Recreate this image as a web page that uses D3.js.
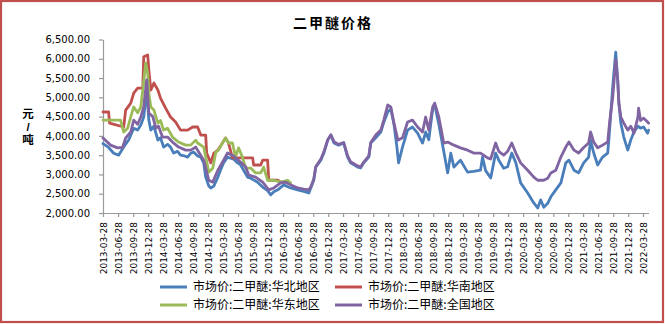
<!DOCTYPE html>
<html><head><meta charset="utf-8">
<script src="https://cdn.jsdelivr.net/npm/d3@7"></script>
<style>body{margin:0;background:#fff}svg{display:block}</style>
</head><body><svg id="c" width="665" height="324"></svg>
<script>
const chartTitle = "二甲醚价格";
const yAxisTitle = ["元", "/", "吨"];
const yTicks = [2000, 2500, 3000, 3500, 4000, 4500, 5000, 5500, 6000, 6500];
const xTickLabels = ["2013-03-28","2013-06-28","2013-09-28","2013-12-28","2014-03-28","2014-06-28","2014-09-28","2014-12-28",
  "2015-03-28","2015-06-28","2015-09-28","2015-12-28","2016-03-28","2016-06-28","2016-09-28","2016-12-28",
  "2017-03-28","2017-06-28","2017-09-28","2017-12-28","2018-03-28","2018-06-28","2018-09-28","2018-12-28",
  "2019-03-28","2019-06-28","2019-09-28","2019-12-28","2020-03-28","2020-06-28","2020-09-28","2020-12-28",
  "2021-03-28","2021-06-28","2021-09-28","2021-12-28","2022-03-28"];
const seriesNames = ["市场价:二甲醚:华北地区", "市场价:二甲醚:华南地区", "市场价:二甲醚:华东地区", "市场价:二甲醚:全国地区"];
const seriesColors = ["#4a7ebb", "#c0504d", "#9bbb59", "#8064a2"];

// 华北
const northDates = ["2013-03-28","2013-05-01","2013-06-01","2013-07-01","2013-08-01","2013-09-01","2013-10-01","2013-10-25","2013-11-13","2013-12-01","2013-12-19",
 "2014-01-01","2014-01-13","2014-02-01","2014-02-25","2014-03-13","2014-04-01","2014-04-25","2014-05-13","2014-06-01","2014-06-25","2014-07-13","2014-08-07","2014-08-25","2014-09-13","2014-10-01","2014-10-25","2014-11-13","2014-12-01","2014-12-13",
 "2015-01-01","2015-01-13","2015-02-01","2015-02-25","2015-03-13","2015-04-01","2015-04-25","2015-05-13","2015-06-01","2015-06-25","2015-07-13","2015-08-01","2015-08-25","2015-09-13","2015-10-25","2015-12-01","2015-12-25",
 "2016-01-13","2016-02-01","2016-02-25","2016-04-01","2016-05-13","2016-06-25","2016-08-01","2016-09-01","2016-09-13","2016-10-01","2016-10-13","2016-11-13","2016-12-01","2016-12-25",
 "2017-01-13","2017-02-01","2017-03-01","2017-04-01","2017-04-25","2017-05-13","2017-06-25","2017-07-13","2017-08-01","2017-09-01","2017-09-13","2017-10-13","2017-11-13","2017-12-01","2017-12-25",
 "2018-01-13","2018-02-01","2018-02-19","2018-03-01","2018-03-25","2018-04-25","2018-05-25","2018-06-25","2018-07-25","2018-08-13","2018-09-01","2018-09-25","2018-10-07","2018-11-01","2018-12-01","2018-12-25",
 "2019-01-13","2019-02-01","2019-02-25","2019-03-13","2019-04-25","2019-06-01","2019-07-13","2019-07-25","2019-08-13","2019-09-13","2019-10-13","2019-11-01","2019-12-01","2019-12-25",
 "2020-01-19","2020-02-13","2020-03-13","2020-04-25","2020-06-01","2020-06-25","2020-07-13","2020-08-01","2020-08-25","2020-09-13","2020-10-13","2020-11-13","2020-12-13",
 "2021-01-01","2021-02-01","2021-03-01","2021-04-01","2021-05-01","2021-05-13","2021-06-01","2021-06-25","2021-07-25","2021-08-25","2021-09-07","2021-09-25","2021-10-13","2021-10-25","2021-11-01","2021-11-13","2021-12-01","2021-12-25",
 "2022-01-13","2022-02-01","2022-02-25","2022-03-13","2022-04-01","2022-04-25","2022-05-01"];
const northValues = [3800,3700,3550,3500,3710,3900,4200,4150,4280,4490,5190,
 4410,4150,4250,3890,3950,3710,3780,3710,3555,3600,3500,3480,3450,3550,3580,3480,3450,3300,2930,
 2700,2650,2700,2930,3110,3300,3450,3420,3400,3300,3250,3110,2930,2900,2800,2650,2580,
 2470,2550,2600,2730,2650,2600,2560,2520,2650,2850,3190,3370,3550,3890,
 4020,3815,3760,3815,3450,3300,3190,3170,3300,3450,3815,3950,4100,4350,4620,
 4700,4300,3710,3300,3710,4150,4230,4070,3815,4100,3900,4700,4800,4300,3600,3040,
 3550,3190,3300,3370,3060,3080,3110,3450,3100,2910,3555,3370,3160,3200,
 3555,3300,2780,2520,2260,2130,2340,2150,2250,2420,2600,2780,3300,
 3370,3110,3040,3300,3450,3890,3555,3245,3450,3555,4230,5300,6175,5450,4850,4330,3970,3630,
 3900,4100,4250,4200,4230,4070,4150];

// 华南
const southDates = ["2013-03-28","2013-05-01","2013-05-07","2013-08-01","2013-08-13","2013-09-13","2013-10-01","2013-10-25","2013-11-25","2013-12-01","2013-12-25",
 "2014-01-01","2014-01-13","2014-02-01","2014-02-25","2014-03-13","2014-04-13","2014-05-13","2014-06-13","2014-07-13","2014-08-25","2014-09-25","2014-10-25","2014-11-13","2014-12-13","2014-12-19",
 "2015-01-13","2015-02-01","2015-02-25","2015-03-25","2015-04-13","2015-05-01","2015-05-25","2015-09-25","2015-10-01","2015-11-13","2015-11-25","2015-12-25",
 "2016-01-01","2016-02-25","2016-03-13","2016-04-25"];
const southValues = [4620,4620,4330,4230,4670,4850,5110,5240,5240,6050,6100,
 5710,5190,5370,5190,4980,4720,4490,4360,4150,4150,4230,4230,4020,4020,3555,
 3300,3555,3630,3815,3945,3815,3430,3430,3245,3245,3370,3370,
 2850,2850,2800,2800];

// 华东
const eastDates = ["2013-03-28","2013-07-13","2013-08-01","2013-08-25","2013-09-13","2013-10-01","2013-10-25","2013-11-13","2013-11-25","2013-12-13","2013-12-25",
 "2014-01-01","2014-01-13","2014-02-01","2014-02-25","2014-03-13","2014-04-01","2014-04-25","2014-05-25","2014-07-01","2014-08-13","2014-09-13","2014-10-13","2014-10-25","2014-12-01",
 "2015-01-01","2015-01-25","2015-02-13","2015-03-01","2015-03-25","2015-04-13","2015-05-01","2015-05-25","2015-06-13","2015-07-01","2015-07-25","2015-08-13","2015-09-13","2015-10-13","2015-11-13","2015-12-01","2015-12-25",
 "2016-02-01","2016-03-13","2016-04-25","2016-05-13"];
const eastValues = [4410,4410,4100,4200,4490,4750,4600,4750,5190,5890,5630,
 5110,4750,4670,4330,4400,4150,4200,3970,3840,3760,3760,3890,3815,3710,
 3060,3160,3580,3630,3815,3945,3815,3815,3450,3690,3450,3165,3165,3040,3040,3190,2850,
 2850,2800,2850,2780];

// 全国
const nationDates = ["2013-03-28","2013-05-13","2013-06-25","2013-07-25","2013-08-13","2013-09-13","2013-10-01","2013-10-25","2013-11-13","2013-12-01","2013-12-19",
 "2014-01-01","2014-01-25","2014-02-13","2014-03-01","2014-03-25","2014-04-25","2014-05-25","2014-07-01","2014-08-13","2014-09-13","2014-10-13","2014-10-25","2014-12-01",
 "2015-01-01","2015-01-25","2015-02-25","2015-04-01","2015-04-25","2015-06-01","2015-07-13","2015-08-13","2015-09-01","2015-10-13","2015-11-25",
 "2016-01-01","2016-02-01","2016-03-13","2016-04-13","2016-05-13","2016-06-25","2016-08-01","2016-09-01","2016-09-13","2016-10-01","2016-10-13","2016-11-13","2016-12-01","2016-12-25",
 "2017-01-13","2017-02-01","2017-03-01","2017-04-01","2017-04-25","2017-05-13","2017-06-25","2017-07-13","2017-08-01","2017-09-01","2017-09-13","2017-10-13","2017-11-13","2017-12-01","2017-12-25",
 "2018-01-13","2018-02-01","2018-02-25","2018-03-25","2018-04-25","2018-05-25","2018-06-25","2018-07-25","2018-08-13","2018-09-01","2018-09-25","2018-10-07","2018-11-01","2018-12-01","2018-12-25",
 "2019-02-01","2019-03-13","2019-04-25","2019-06-01","2019-07-13","2019-08-25","2019-09-13","2019-10-13","2019-11-01","2019-12-01","2019-12-25",
 "2020-01-19","2020-02-13","2020-03-13","2020-04-25","2020-06-01","2020-06-25","2020-08-01","2020-08-25","2020-09-13","2020-10-13","2020-11-13","2020-12-13",
 "2021-01-01","2021-02-01","2021-03-01","2021-04-01","2021-05-01","2021-05-13","2021-06-01","2021-06-25","2021-07-25","2021-08-25","2021-09-07","2021-09-25","2021-10-13","2021-10-25","2021-11-01","2021-11-13","2021-12-01","2021-12-25",
 "2022-01-13","2022-02-01","2022-02-25","2022-03-01","2022-03-13","2022-04-01","2022-04-25","2022-05-01"];
const nationValues = [3945,3760,3690,3700,3945,4100,4410,4300,4490,4750,5450,
 4590,4500,4200,4250,3970,3970,3840,3710,3630,3630,3710,3630,3370,
 2850,2800,3110,3370,3555,3480,3320,3200,2985,2930,2800,
 2600,2650,2780,2800,2730,2650,2620,2600,2680,2880,3200,3400,3580,3900,
 4030,3850,3780,3830,3480,3330,3220,3200,3320,3480,3830,4020,4150,4410,4800,
 4750,4330,3890,3950,4360,4410,4230,4100,4490,4150,4750,4850,4490,3815,3840,
 3760,3690,3630,3555,3555,3430,3400,3815,3600,3500,3600,
 3815,3555,3300,3110,2930,2850,2850,2900,3040,3110,3450,3710,
 3840,3630,3555,3700,3815,4100,3840,3690,3760,3840,4410,5010,5970,5450,4850,4490,4330,4150,
 4250,4070,4490,4720,4400,4460,4360,4330];

const seriesDates = [northDates, southDates, eastDates, nationDates];
const seriesValues = [northValues, southValues, eastValues, nationValues];

const parse = d3.timeParse("%Y-%m-%d");
const svg = d3.select("#c");

svg.append("rect").attr("x", 1).attr("y", 1).attr("width", 662).attr("height", 321)
  .attr("fill", "#fff").attr("stroke", "#c0504d").attr("stroke-width", 2.2);

const x = d3.scaleTime().domain([parse("2013-03-28"), parse("2022-05-01")]).range([103, 648.6]);
const y = d3.scaleLinear().domain([2000, 6500]).range([213, 39.5]);

// title
svg.append("text").attr("x", 333).attr("y", 28).attr("text-anchor", "middle")
  .attr("font-family", "'Noto Sans CJK SC', sans-serif").attr("font-size", 14).attr("font-weight", "bold")
  .attr("letter-spacing", 2).text(chartTitle);

// y axis title: stacked characters
svg.append("g").selectAll("text").data(yAxisTitle).join("text")
  .attr("text-anchor", "middle").attr("x", 28).attr("y", (d, i) => 118 + i * 13)
  .attr("font-family", "'Liberation Sans', 'Noto Sans CJK SC', sans-serif").attr("font-size", 11.5).attr("font-weight", "bold")
  .text(d => d);

// axes
const yAxis = svg.append("g").attr("transform", "translate(103,0)")
  .call(d3.axisLeft(y).tickValues(yTicks).tickFormat(d3.format(",.2f")).tickSize(4).tickSizeOuter(0));
yAxis.selectAll("text").attr("x", -13).attr("font-family", "'DejaVu Sans', sans-serif").attr("font-size", 10).attr("fill", "#000");

const xAxis = svg.append("g").attr("transform", "translate(0,213)")
  .call(d3.axisBottom(x).tickValues(xTickLabels.map(parse)).tickFormat(d3.timeFormat("%Y-%m-%d")).tickSize(4).tickSizeOuter(0));
xAxis.selectAll("text").attr("transform", "rotate(-90)").attr("text-anchor", "end")
  .attr("x", -9).attr("y", 0).attr("dy", "0.35em")
  .attr("font-family", "'DejaVu Sans', sans-serif").attr("font-size", 9).attr("fill", "#000");

svg.selectAll(".domain, .tick line").attr("stroke", "#9a9a9a").attr("stroke-width", 1.2);

// lines
const line = d3.line().x(d => x(d.date)).y(d => y(d.value));
seriesDates.forEach((dates, i) => {
  const pts = dates.map((d, j) => ({date: parse(d), value: seriesValues[i][j]}));
  svg.append("path").datum(pts).attr("d", line).attr("fill", "none")
    .attr("stroke", seriesColors[i]).attr("stroke-width", 2.8)
    .attr("stroke-linejoin", "round").attr("stroke-linecap", "round");
});

// legend
const legendPos = [[160, 287], [335, 287], [160, 305], [335, 305]];
const order = [0, 1, 2, 3];
const lg = svg.append("g").selectAll("g").data(order).join("g")
  .attr("transform", (d, i) => `translate(${legendPos[i][0]},${legendPos[i][1]})`);
lg.append("line").attr("x1", 0).attr("x2", 27).attr("y1", 0).attr("y2", 0)
  .attr("stroke", d => seriesColors[d]).attr("stroke-width", 3);
lg.append("text").attr("x", 33).attr("y", 0).attr("dy", "0.36em")
  .attr("font-family", "'Noto Sans CJK SC', sans-serif").attr("font-size", 12).attr("fill", "#000")
  .text(d => seriesNames[d]);
</script>
</body></html>
